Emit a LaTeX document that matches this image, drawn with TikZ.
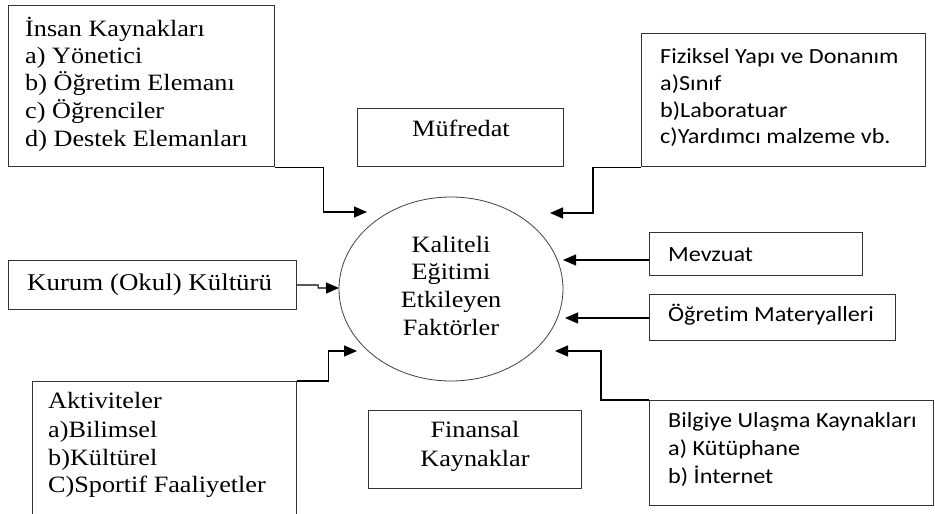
\documentclass[tikz,border=0pt]{standalone}
\usepackage{fontspec}
\setmainfont{Liberation Serif}[FakeStretch=1.12,Ligatures=NoCommon]
\newfontfamily\calib{Carlito}[FakeStretch=1.12,Ligatures=NoCommon]
\usetikzlibrary{arrows.meta,shapes.geometric}
\begin{document}
\begin{tikzpicture}[x=1pt,y=-1pt,
  box/.style={draw=black!80, line width=1.1pt, inner sep=0pt, anchor=north west},
  ln/.style={anchor=base west, inner sep=0pt},
  ctr/.style={anchor=base, inner sep=0pt},
  arr/.style={draw=black, line width=1.2pt, -{Triangle[length=13pt,width=11pt]}},
  serA/.style={font=\fontsize{23.4}{27}\selectfont},
  serB/.style={font=\fontsize{23.4}{27}\selectfont},
  serC/.style={font=\fontsize{24}{28}\selectfont},
  sanA/.style={font=\calib\fontsize{21.6}{26}\selectfont}]
\clip (0,0) rectangle (935,514);
\fill[white] (0,0) rectangle (935,514);

% boxes
\node[box, minimum width=266pt, minimum height=161pt] (hr) at (8,5) {};
\node[box, minimum width=206pt, minimum height=58pt] (muf) at (357,108) {};
\node[box, minimum width=284pt, minimum height=133pt] (fiz) at (641,33) {};
\node[box, minimum width=288pt, minimum height=49pt] (kur) at (8,260) {};
\node[box, minimum width=213pt, minimum height=43pt] (mev) at (649,232) {};
\node[box, minimum width=246pt, minimum height=46pt] (ogr) at (649,294) {};
\node[box, minimum width=264pt, minimum height=160pt] (akt) at (32,381) {};
\node[box, minimum width=213pt, minimum height=78pt] (fin) at (368,410) {};
\node[box, minimum width=284pt, minimum height=105pt] (bil) at (649,400) {};
\node[ellipse, draw=black!75, line width=0.8pt, minimum width=224pt, minimum height=184pt, inner sep=0pt] (ell) at (451,289) {};

% texts
\node[ln, serA] (hr1) at (25,36) {İnsan Kaynakları};
\node[ln, serA] (hr2) at (25,63) {a) Yönetici};
\node[ln, serA] (hr3) at (25,90.5) {b) Öğretim Elemanı};
\node[ln, serA] (hr4) at (25,118) {c) Öğrenciler};
\node[ln, serA] (hr5) at (25,146) {d) Destek Elemanları};

\node[ctr, serB] (muft) at (461,136) {Müfredat};

\node[ln, sanA] (fiz1) at (660,63) {Fiziksel Yapı ve Donanım};
\node[ln, sanA] (fiz2) at (660,90) {a)Sınıf};
\node[ln, sanA] (fiz3) at (660,117) {b)Laboratuar};
\node[ln, sanA] (fiz4) at (660,143) {c)Yardımcı malzeme vb.};

\node[ln, serC] (kurt) at (27,290) {Kurum (Okul) Kültürü};

\node[ln, sanA] (mevt) at (668,261) {Mevzuat};
\node[ln, sanA] (ogrt) at (668,321) {Öğretim Materyalleri};

\node[ln, serB] (akt1) at (48,408) {Aktiviteler};
\node[ln, serB] (akt2) at (48,437) {a)Bilimsel};
\node[ln, serB] (akt3) at (48,465) {b)Kültürel};
\node[ln, serB] (akt4) at (48,492) {C)Sportif Faaliyetler};

\node[ctr, serB] (fin1) at (475,437) {Finansal};
\node[ctr, serB] (fin2) at (475,466) {Kaynaklar};

\node[ln, sanA] (bil1) at (668,427) {Bilgiye Ulaşma Kaynakları};
\node[ln, sanA] (bil2) at (668,455) {a) Kütüphane};
\node[ln, sanA] (bil3) at (668,483) {b) İnternet};

\node[ctr, serB] (e1) at (451,252) {Kaliteli};
\node[ctr, serB] (e2) at (451,279.5) {Eğitimi};
\node[ctr, serB] (e3) at (451,307) {Etkileyen};
\node[ctr, serB] (e4) at (451,335) {Faktörler};

% arrow targets
\coordinate (t1) at (367,212);
\coordinate (t2) at (550,213);
\coordinate (t3) at (339,288);
\coordinate (t4) at (357,351);
\coordinate (t5) at (563,260);
\coordinate (t6) at (565,318);
\coordinate (t7) at (555,351);

% connectors
\draw[arr] (hr.south east) -- ++(48,0) |- (t1);
\draw[arr] (fiz.south west) -- ++(-48,0) |- (t2);
\draw[arr] (kur.east) -- ++(21,0) -- ++(0,3) -- (t3);
\draw[arr] (akt.north east) -- ++(31,0) |- (t4);
\draw[arr] (mev.west |- t5) -- (t5);
\draw[arr] (ogr.west |- t6) -- (t6);
\draw[arr] (bil.north west) -- ++(-48,0) |- (t7);
\end{tikzpicture}
\end{document}
